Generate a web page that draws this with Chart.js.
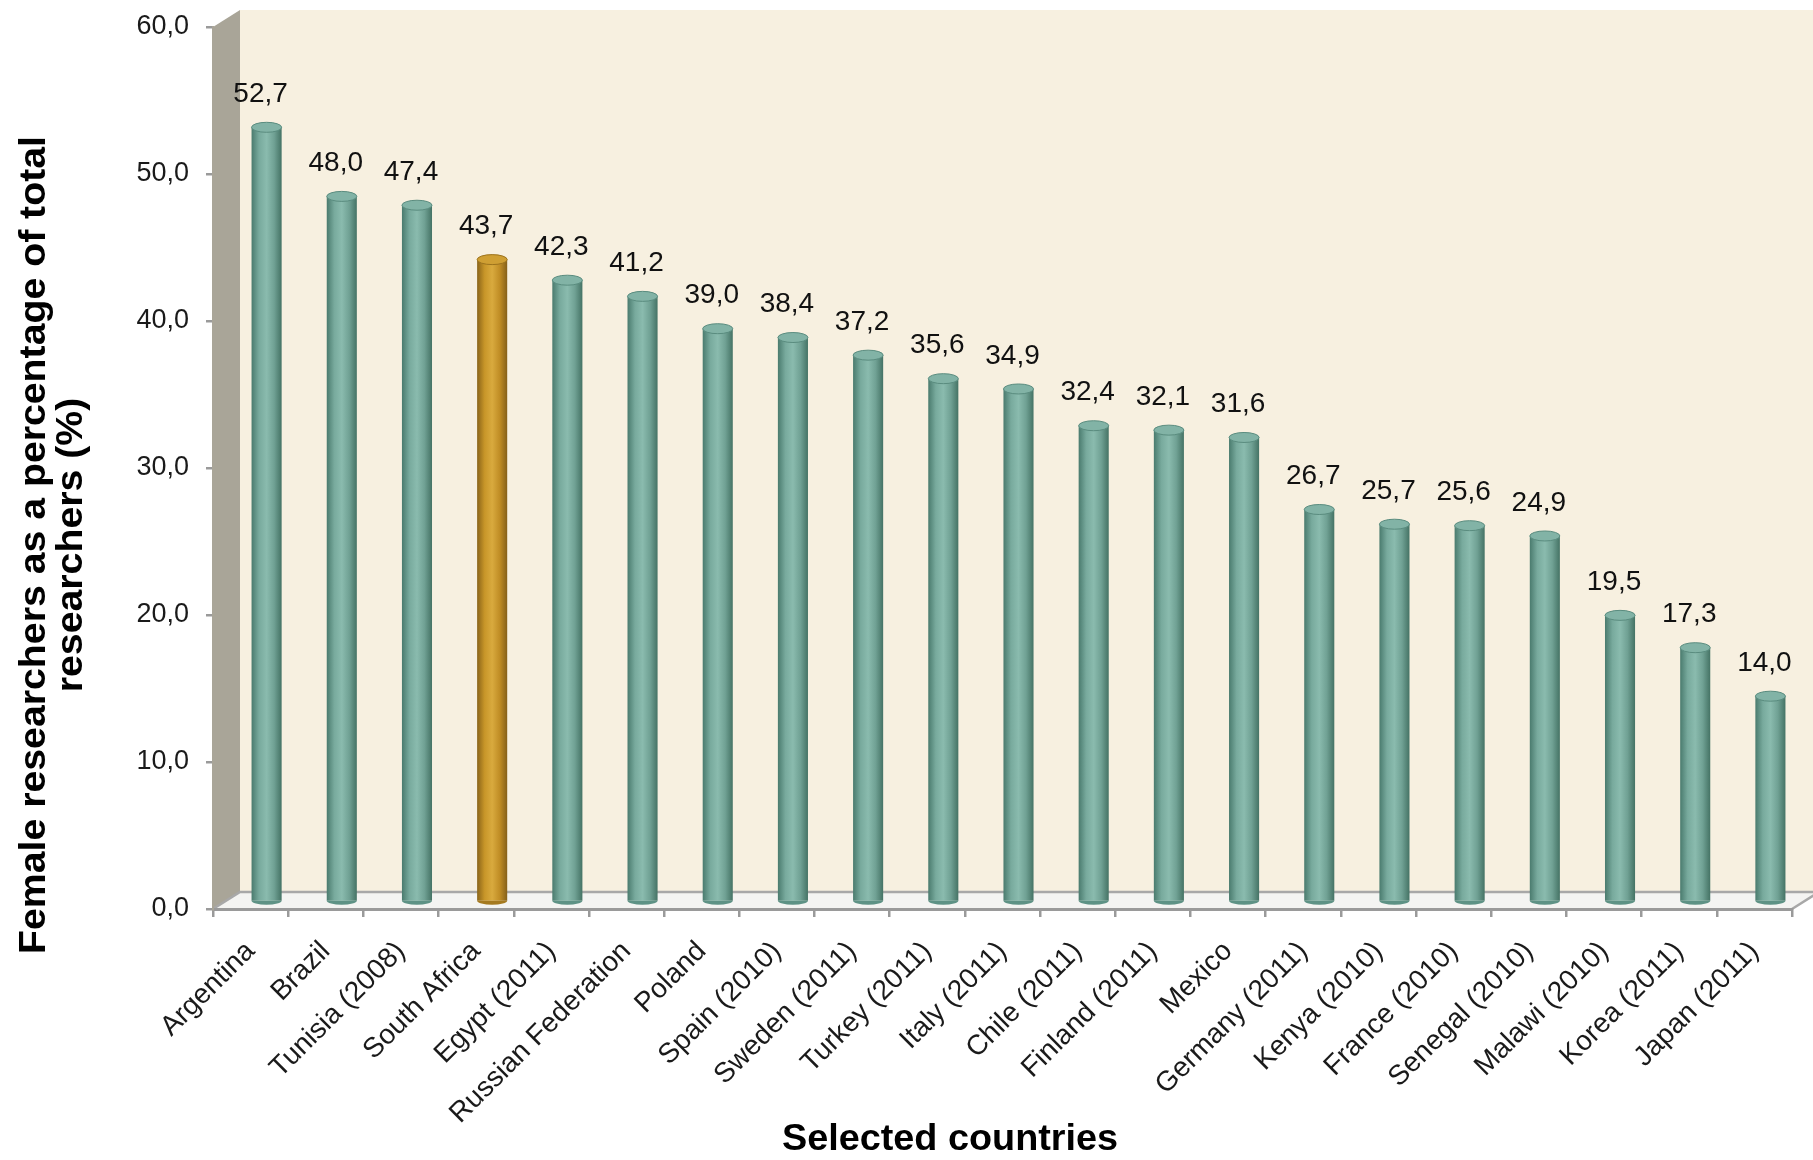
<!DOCTYPE html>
<html>
<head>
<meta charset="utf-8">
<script src="https://cdn.jsdelivr.net/npm/chart.js@4.4.1/dist/chart.umd.min.js"></script>
<style>
  body { margin: 0; background: #ffffff; }
  canvas { display: block; }
</style>
</head>
<body>
<canvas id="myChart" width="1813" height="1160"></canvas>
<script>
// categories and values
const countries = [
  "Argentina", "Brazil", "Tunisia (2008)", "South Africa", "Egypt (2011)",
  "Russian Federation", "Poland", "Spain (2010)", "Sweden (2011)", "Turkey (2011)",
  "Italy (2011)", "Chile (2011)", "Finland (2011)", "Mexico", "Germany (2011)",
  "Kenya (2010)", "France (2010)", "Senegal (2010)", "Malawi (2010)", "Korea (2011)",
  "Japan (2011)"
];
const femaleShare = [
  52.7, 48.0, 47.4, 43.7, 42.3, 41.2, 39.0, 38.4, 37.2, 35.6,
  34.9, 32.4, 32.1, 31.6, 26.7, 25.7, 25.6, 24.9, 19.5, 17.3, 14.0
];
const highlighted = "South Africa";
const yTicks = [0, 10, 20, 30, 40, 50, 60];

const yTitle = ["Female researchers as a percentage of total", "researchers (%)"];
const xTitle = "Selected countries";

// depth offset of the bars (3D look)
const DX = 16, DY = -7;
const FONT = "'Liberation Sans', Arial, sans-serif";

function fmt(v) {
  return v.toFixed(1).replace(".", ",");
}

function barFill(ctx) {
  const chart = ctx.chart;
  const gold = countries[ctx.dataIndex] === highlighted;
  if (!chart.chartArea) return gold ? "#c9962b" : "#7fb0a3";
  const x = chart.scales.x.getPixelForValue(ctx.dataIndex);
  const g = chart.ctx.createLinearGradient(x - 15, 0, x + 15, 0);
  if (gold) {
    g.addColorStop(0, "#8a6419");
    g.addColorStop(0.25, "#c89629");
    g.addColorStop(0.5, "#d9aa3e");
    g.addColorStop(0.75, "#c08d25");
    g.addColorStop(1, "#85601a");
  } else {
    g.addColorStop(0, "#4a7b6e");
    g.addColorStop(0.25, "#78aa9d");
    g.addColorStop(0.5, "#8abbae");
    g.addColorStop(0.75, "#70a194");
    g.addColorStop(1, "#457365");
  }
  return g;
}

///////////////////////// 3D WALLS, FLOOR AND TITLES /////////////////////////
const walls = {
  id: "walls",
  beforeDraw(chart) {
    const { ctx, chartArea: a } = chart;
    const wx = 27, wy = -17;
    ctx.save();
    // back wall
    ctx.fillStyle = "#f7f0e0";
    ctx.fillRect(a.left + wx, a.top + wy, chart.width - a.left - wx, a.bottom - a.top);
    // side wall
    ctx.fillStyle = "#a9a598";
    ctx.beginPath();
    ctx.moveTo(a.left, a.top);
    ctx.lineTo(a.left + wx, a.top + wy);
    ctx.lineTo(a.left + wx, a.bottom + wy);
    ctx.lineTo(a.left, a.bottom);
    ctx.closePath();
    ctx.fill();
    // floor
    ctx.fillStyle = "#f4f4f2";
    ctx.beginPath();
    ctx.moveTo(a.left, a.bottom);
    ctx.lineTo(a.left + wx, a.bottom + wy);
    ctx.lineTo(a.right + wx, a.bottom + wy);
    ctx.lineTo(a.right, a.bottom);
    ctx.closePath();
    ctx.fill();
    ctx.strokeStyle = "#a8a8a8";
    ctx.lineWidth = 2.5;
    ctx.beginPath();
    ctx.moveTo(a.left, a.bottom);
    ctx.lineTo(a.left + wx, a.bottom + wy);
    ctx.lineTo(a.right + wx, a.bottom + wy);
    ctx.lineTo(a.right, a.bottom);
    ctx.stroke();
    ctx.restore();
  },
  beforeDatasetsDraw(chart) {
    chart.ctx.save();
    chart.ctx.translate(DX, DY);
  },
  afterDatasetsDraw(chart) {
    const ctx = chart.ctx;
    ctx.restore();
    const meta = chart.getDatasetMeta(0);
    ctx.save();
    meta.data.forEach((bar, i) => {
      const gold = countries[i] === highlighted;
      const half = bar.width / 2;
      const cx = bar.x + DX;
      // bottom rounding
      ctx.fillStyle = gold ? "#a57a20" : "#5e9285";
      ctx.beginPath();
      ctx.ellipse(cx, bar.base + DY, half, 4, 0, 0, Math.PI);
      ctx.fill();
      // top cap
      ctx.fillStyle = gold ? "#cf9f33" : "#82b3a6";
      ctx.strokeStyle = gold ? "#9c731d" : "#5a8c7f";
      ctx.lineWidth = 1;
      ctx.beginPath();
      ctx.ellipse(cx, bar.y + DY, half, 5, 0, 0, Math.PI * 2);
      ctx.fill();
      ctx.stroke();
      // value label
      ctx.fillStyle = "#111111";
      ctx.font = "28px " + FONT;
      ctx.textAlign = "center";
      ctx.textBaseline = "middle";
      ctx.fillText(fmt(femaleShare[i]), bar.x + 10, bar.y - 40);
    });
    ctx.restore();
  },
  afterDraw(chart) {
    const ctx = chart.ctx;
    ctx.save();
    ctx.fillStyle = "#000000";
    ctx.font = "bold 36px " + FONT;
    ctx.textAlign = "center";
    ctx.textBaseline = "middle";
    ctx.save();
    ctx.translate(950, 1140);
    ctx.scale(1.05, 1);
    ctx.fillText(xTitle, 0, 0);
    ctx.restore();
    ctx.translate(0, 545);
    ctx.rotate(-Math.PI / 2);
    ctx.scale(1.09, 1);
    ctx.fillText(yTitle[0], 0, 35);
    ctx.fillText(yTitle[1], 0, 72);
    ctx.restore();
  }
};

const data = {
  labels: countries,
  datasets: [{
    label: "Female researchers (%)",
    data: femaleShare,
    backgroundColor: barFill,
    borderWidth: 0,
    categoryPercentage: 0.8,
    barPercentage: 0.5,
    clip: false
  }]
};

const config = {
  type: "bar",
  data: data,
  options: {
    responsive: false,
    animation: false,
    layout: { padding: { top: 27, right: 21, left: 0, bottom: 0 } },
    plugins: {
      legend: { display: false },
      tooltip: { enabled: false }
    },
    scales: {
      x: {
        afterFit(scale) { scale.height = 251; },
        grid: { drawOnChartArea: false, drawTicks: true, tickLength: 8, color: "#9a9a9a", lineWidth: 2.5, offset: true },
        border: { display: true, color: "#9a9a9a", width: 3 },
        ticks: {
          autoSkip: false,
          maxRotation: 45,
          minRotation: 45,
          padding: 18,
          color: "#1a1a1a",
          font: { family: FONT, size: 28 }
        }
      },
      y: {
        min: 0,
        max: 60,
        afterFit(scale) {
          scale.width = 213;
          scale.paddingTop = 0;
          scale.paddingBottom = 0;
        },
        afterBuildTicks(scale) { scale.ticks = yTicks.map(v => ({ value: v })); },
        grid: { drawOnChartArea: false, drawTicks: true, tickLength: 7, color: "#9a9a9a", lineWidth: 2.5 },
        border: { display: true, color: "#a9a598", width: 2 },
        ticks: {
          padding: 17,
          color: "#1a1a1a",
          font: { family: FONT, size: 27 },
          callback: (v) => fmt(v)
        }
      }
    }
  },
  plugins: [walls]
};

const myChart = new Chart(document.getElementById("myChart"), config);
</script>
</body>
</html>
